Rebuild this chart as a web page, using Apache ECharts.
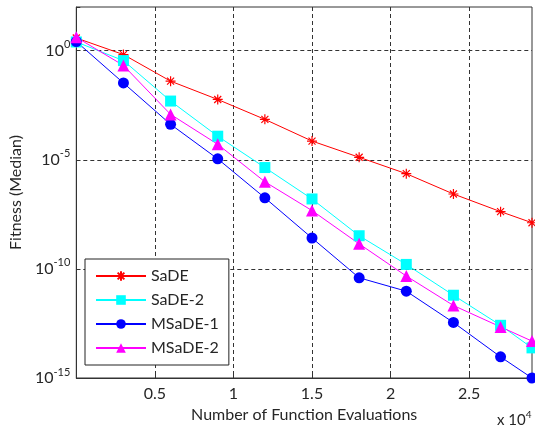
<!DOCTYPE html>
<html>
<head>
<meta charset="utf-8">
<script src="https://cdn.jsdelivr.net/npm/echarts@6/dist/echarts.min.js"></script>
<style>
  html, body { margin: 0; padding: 0; background: #fff; }
  #main { width: 535px; height: 434px; }
</style>
</head>
<body>
<div id="main"></div>
<script>
// function evaluations at which the median fitness was sampled
const evals = [0, 3000, 6000, 9000, 12000, 15000, 18000, 21000, 24000, 27000, 29000];

// median fitness values
const sade   = [3.8, 0.66, 4.0e-2, 5.8e-3, 7.1e-4, 7.2e-5, 1.3e-5, 2.3e-6, 2.7e-7, 4.2e-8, 1.3e-8];
const sade2  = [2.5, 0.35, 4.9e-3, 1.2e-4, 4.4e-6, 1.6e-7, 3.3e-9, 1.6e-10, 6.2e-12, 2.6e-13, 2.4e-14];
const msade1 = [2.6, 3.3e-2, 4.2e-4, 1.1e-5, 1.8e-7, 2.6e-9, 3.9e-11, 9.5e-12, 3.5e-13, 9.3e-15, 1.0e-15];
const msade2 = [4.1, 0.21, 1.2e-3, 5.1e-5, 9.8e-7, 4.7e-8, 1.4e-9, 4.7e-11, 2.1e-12, 2.2e-13, 4.9e-14];

const names = ['SaDE', 'SaDE-2', 'MSaDE-1', 'MSaDE-2'];
const yTicks = [1e0, 1e-5, 1e-10, 1e-15];
const xTicks = [5000, 10000, 15000, 20000, 25000];

const font = 'Lato, "Open Sans", sans-serif';
const txt = '#262626';

// MATLAB style asterisk marker
const star = 'path://M5,0L5,10M0,5L10,5M1.5,1.5L8.5,8.5M1.5,8.5L8.5,1.5';

function pairs(vals) {
  return evals.map((x, i) => [x, vals[i]]);
}

function mk(name, vals, color, symbol, size, extraStyle) {
  return {
    name: name,
    type: 'line',
    data: pairs(vals),
    symbol: symbol,
    symbolSize: size,
    clip: false,
    lineStyle: { color: color, width: 1 },
    itemStyle: Object.assign({ color: color }, extraStyle || {}),
    emphasis: { disabled: true },
    animation: false
  };
}

const chart = echarts.init(document.getElementById('main'));

chart.setOption({
  animation: false,
  backgroundColor: '#fff',
  grid: {
    left: 76, right: 3, top: 7, bottom: 56,
    show: true, borderColor: '#333', borderWidth: 1
  },
  xAxis: {
    type: 'value',
    min: 0, max: 29000, interval: 5000,
    name: 'Number of Function Evaluations',
    nameLocation: 'middle',
    nameGap: 29,
    nameTextStyle: { fontFamily: font, fontSize: 16, color: txt },
    axisLine: { show: true, lineStyle: { color: '#333' } },
    axisTick: { show: true, inside: true, length: 4, lineStyle: { color: '#333' } },
    axisLabel: {
      fontFamily: font, fontSize: 16, color: txt, margin: 8,
      formatter: v => xTicks.indexOf(v) >= 0 ? String(v / 10000) : ''
    },
    splitLine: {
      show: true, showMinLine: false, showMaxLine: false,
      lineStyle: { color: '#333', type: [4, 3], width: 1 }
    }
  },
  yAxis: {
    type: 'log',
    logBase: 10,
    min: 1e-15, max: 1e2, interval: 5,
    name: 'Fitness (Median)',
    nameLocation: 'middle',
    nameGap: 48,
    nameRotate: 90,
    nameTextStyle: { fontFamily: font, fontSize: 16, color: txt },
    axisLine: { show: true, lineStyle: { color: '#333' } },
    axisTick: { show: true, inside: true, length: 4, lineStyle: { color: '#333' } },
    axisLabel: {
      margin: 6,
      formatter: v => {
        const e = Math.round(Math.log10(v));
        if (yTicks.indexOf(Math.pow(10, e)) < 0 || e > 0) return '';
        return '{b|10}{e|' + e + '}';
      },
      rich: {
        b: { fontFamily: font, fontSize: 16, color: txt },
        e: { fontFamily: font, fontSize: 11, color: txt, padding: [0, 0, 12, 0] }
      }
    },
    splitLine: {
      show: true, showMinLine: false, showMaxLine: false,
      lineStyle: { color: '#333', type: [4, 3], width: 1 }
    }
  },
  legend: {
    orient: 'vertical',
    left: 85, top: 259,
    padding: [9, 10, 9, 10],
    itemWidth: 50, itemHeight: 12, itemGap: 8,
    backgroundColor: '#fff',
    borderColor: '#222', borderWidth: 1, borderRadius: 0,
    textStyle: { fontFamily: font, fontSize: 16, color: txt },
    data: names
  },
  graphic: [{
    type: 'text',
    left: 497, top: 410,
    style: {
      text: '{b|x 10}{e|4}',
      rich: {
        b: { fontFamily: font, fontSize: 15, fill: txt },
        e: { fontFamily: font, fontSize: 10, fill: txt, padding: [0, 0, 10, 0] }
      }
    }
  }],
  series: [
    mk(names[0], sade, '#ff0000', star, 10, { borderColor: '#ff0000', borderWidth: 1.2 }),
    mk(names[1], sade2, '#00ffff', 'rect', 11),
    mk(names[2], msade1, '#0000ff', 'circle', 11),
    mk(names[3], msade2, '#ff00ff', 'triangle', 12)
  ]
});
</script>
</body>
</html>
